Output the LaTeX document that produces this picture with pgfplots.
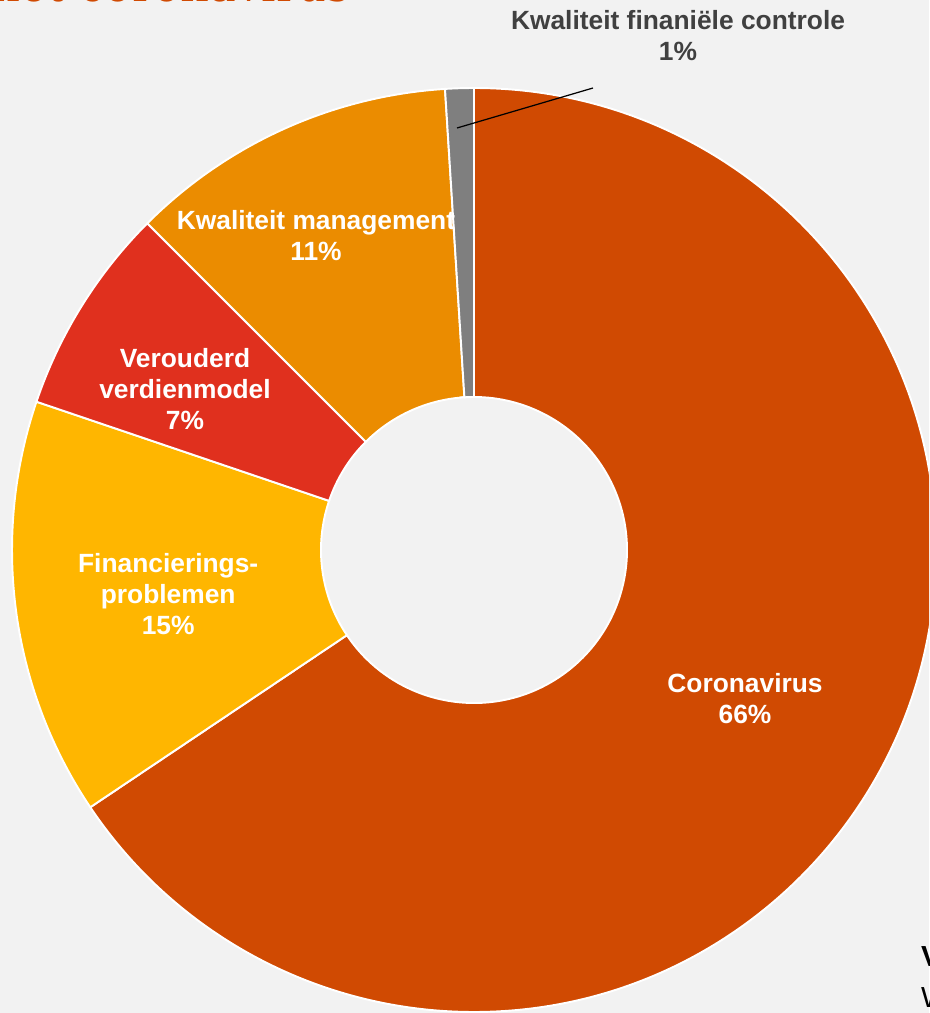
\documentclass[border=0pt]{standalone}
\usepackage{fontspec}
\setmainfont{Liberation Sans}
\newfontfamily\titlefont{DejaVu Serif}
\usepackage{pgfplots}
\usepackage{pgfplotstable}
\pgfplotsset{compat=1.18}

\definecolor{bg}{HTML}{F2F2F2}
\definecolor{cCorona}{HTML}{D04A02}
\definecolor{cFin}{HTML}{FFB600}
\definecolor{cVer}{HTML}{E0301E}
\definecolor{cMgmt}{HTML}{EB8C00}
\definecolor{cGrey}{HTML}{7F7F7F}
\definecolor{lblgrey}{HTML}{404040}

% share per cause (%), clockwise from 12 o'clock
\pgfplotstableread{
value color
65.6  cCorona
14.6  cFin
7.3   cVer
11.5  cMgmt
1.0   cGrey
}\slices

\newcommand\lbl{\fontsize{15pt}{17.6pt}\selectfont\bfseries}
\def\Rcm{9.24cm}   % outer radius
\def\rcm{3.06cm}   % inner radius
\def\ri{0.3312}    % inner radius in axis units

\begin{document}
\begin{tikzpicture}
\useasboundingbox (0,0) rectangle (18.58cm,20.26cm);
\clip (0,0) rectangle (18.58cm,20.26cm);
\fill[bg] (0,0) rectangle (18.58cm,20.26cm);

\node[anchor=base east, text=cCorona, font=\titlefont\fontsize{25.6pt}{30pt}\selectfont]
  at (7.12cm,20.22cm) {door het coronavirus};
\node[anchor=base west, font=\fontsize{16.5pt}{20pt}\selectfont\bfseries] at (18.30cm,0.92cm) {Vo};
\node[anchor=base west, font=\fontsize{16.5pt}{20pt}\selectfont] at (18.30cm,0.10cm) {Wa};

\begin{axis}[
  scale only axis,
  width=18.48cm, height=18.48cm,
  xmin=-1, xmax=1, ymin=-1, ymax=1,
  hide axis, clip=false,
  at={(9.48cm,9.26cm)}, anchor=origin,
]
\def\cum{90}
\pgfplotsforeachungrouped \rowi in {0,...,4} {
  \pgfplotstablegetelem{\rowi}{value}\of\slices \let\sv\pgfplotsretval
  \pgfplotstablegetelem{\rowi}{color}\of\slices \let\sc\pgfplotsretval
  \pgfmathsetmacro\ea{\cum-3.6*\sv}
  \pgfmathsetmacro\xa{\ri*cos(\cum)}
  \pgfmathsetmacro\ya{\ri*sin(\cum)}
  \pgfmathsetmacro\xb{cos(\cum)}
  \pgfmathsetmacro\yb{sin(\cum)}
  \pgfmathsetmacro\xc{\ri*cos(\ea)}
  \pgfmathsetmacro\yc{\ri*sin(\ea)}
  \edef\tmp{\noexpand\filldraw[fill=\sc, draw=white, line width=1.1pt]
    (axis cs:\xa,\ya) -- (axis cs:\xb,\yb)
    arc[start angle=\cum, end angle=\ea, radius=\Rcm]
    -- (axis cs:\xc,\yc)
    arc[start angle=\ea, end angle=\cum, radius=\rcm] -- cycle;}
  \tmp
  \global\let\cum\ea
}

\node[font=\lbl, text=white, align=center] at (axis cs:0.5866,-0.3225) {Coronavirus\\66\%};
\node[font=\lbl, text=white, align=center] at (axis cs:-0.662,-0.095) {Financierings-\\problemen\\15\%};
\node[font=\lbl, text=white, align=center] at (axis cs:-0.6255,0.3485) {Verouderd\\verdienmodel\\7\%};
\node[font=\lbl, text=white, align=center] at (axis cs:-0.342,0.680) {Kwaliteit management\\11\%};
\draw[black, line width=0.7pt] (axis cs:-0.0368,0.9134) -- (axis cs:0.2576,1.0);
\node[font=\lbl, text=lblgrey, align=center] at (axis cs:0.4416,1.1126) {Kwaliteit finaniële controle\\1\%};
\end{axis}
\end{tikzpicture}
\end{document}
